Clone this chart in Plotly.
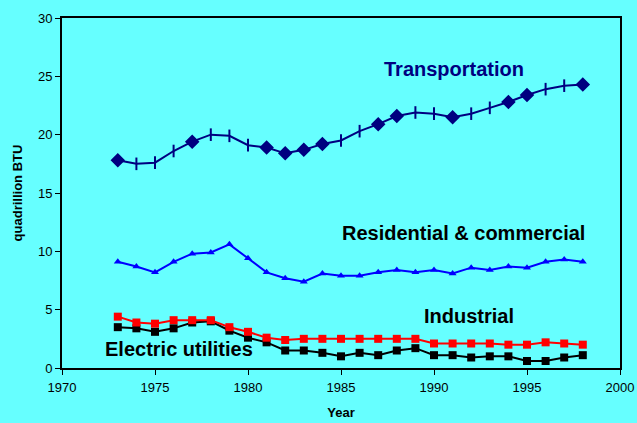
# Energy consumption by end-use sector, 1973-1998

import plotly.graph_objects as go

# Data
YEARS = list(range(1973, 1999))

TRANSPORTATION = [17.8, 17.5, 17.6, 18.6, 19.4, 20.0, 19.9, 19.1, 18.9, 18.4,
                  18.7, 19.2, 19.5, 20.3, 20.9, 21.6, 21.9, 21.8, 21.5, 21.8,
                  22.3, 22.8, 23.4, 23.9, 24.2, 24.3]
RESIDENTIAL = [9.1, 8.7, 8.2, 9.1, 9.8, 9.9, 10.6, 9.4, 8.2, 7.7,
               7.4, 8.1, 7.9, 7.9, 8.2, 8.4, 8.2, 8.4, 8.1, 8.6,
               8.4, 8.7, 8.6, 9.1, 9.3, 9.1]
INDUSTRIAL = [4.4, 3.9, 3.8, 4.1, 4.1, 4.1, 3.5, 3.1, 2.6, 2.4,
              2.5, 2.5, 2.5, 2.5, 2.5, 2.5, 2.5, 2.1, 2.1, 2.1,
              2.1, 2.0, 2.0, 2.2, 2.1, 2.0]
ELECTRIC = [3.5, 3.4, 3.1, 3.4, 3.9, 4.0, 3.2, 2.6, 2.2, 1.5,
            1.5, 1.3, 1.0, 1.3, 1.1, 1.5, 1.7, 1.1, 1.1, 0.9,
            1.0, 1.0, 0.6, 0.6, 0.9, 1.1]

# transportation markers come out as a mix of diamonds and ticks in the original
TRANS_SYMBOLS = ["diamond", "line-ns", "line-ns", "line-ns", "diamond", "line-ns",
                 "line-ns", "line-ns", "diamond", "diamond", "diamond", "diamond",
                 "line-ns", "line-ns", "diamond", "diamond", "line-ns", "line-ns",
                 "diamond", "line-ns", "line-ns", "diamond", "diamond", "line-ns",
                 "line-ns", "diamond"]

BG = "#66FFFF"
NAVY = "#000080"
FONT = "Arial, Liberation Sans, sans-serif"

fig = go.Figure()

fig.add_trace(go.Scatter(
    x=YEARS, y=ELECTRIC, mode="lines+markers",
    line=dict(color="black", width=2),
    marker=dict(symbol="square", size=8, color="black"),
))
fig.add_trace(go.Scatter(
    x=YEARS, y=INDUSTRIAL, mode="lines+markers",
    line=dict(color="#FF0000", width=2),
    marker=dict(symbol="square", size=8, color="#FF0000"),
))
fig.add_trace(go.Scatter(
    x=YEARS, y=RESIDENTIAL, mode="lines+markers",
    line=dict(color="#0000FF", width=2),
    marker=dict(symbol="triangle-up", size=7, color="#0000FF"),
))
fig.add_trace(go.Scatter(
    x=YEARS, y=TRANSPORTATION, mode="lines+markers",
    line=dict(color=NAVY, width=2),
    marker=dict(symbol=TRANS_SYMBOLS,
                size=[9 if s == "diamond" else 9 for s in TRANS_SYMBOLS],
                color=NAVY, opacity=1,
                line=dict(color=NAVY, width=2)),
))

# series labels placed in the plot
labels = [
    ("Transportation", 1991.1, 25.6, NAVY),
    ("Residential & commercial", 1991.6, 11.55, "black"),
    ("Industrial", 1991.9, 4.5, "black"),
    ("Electric utilities", 1976.3, 1.6, "black"),
]
for text, x, y, color in labels:
    fig.add_annotation(x=x, y=y, text="<b>%s</b>" % text, showarrow=False,
                       font=dict(size=20, color=color, family=FONT))

fig.update_xaxes(
    range=[1970, 2000], dtick=5, tick0=1970,
    showline=True, linecolor="black", linewidth=2, mirror=True,
    ticks="outside", ticklen=5, tickwidth=1, tickcolor="black",
    ticklabelstandoff=1, automargin=False,
    showgrid=False, zeroline=False,
    title=dict(text="<b>Year</b>", font=dict(size=13), standoff=14),
)
fig.update_yaxes(
    range=[0, 30], dtick=5,
    showline=True, linecolor="black", linewidth=2, mirror=True,
    ticks="outside", ticklen=5, tickwidth=1, tickcolor="black",
    automargin=False,
    showgrid=False, zeroline=False,
    title=dict(text="<b>quadrillion BTU</b>", font=dict(size=13), standoff=12),
)

fig.update_layout(
    width=637, height=423,
    margin=dict(l=62, r=17, t=18, b=55),
    plot_bgcolor=BG, paper_bgcolor=BG,
    font=dict(family=FONT, size=13, color="black"),
    showlegend=False,
)

# drop the page margin so the figure sits at the window corner
fig.write_html("out.html", config={"displayModeBar": False},
               post_script="document.body.style.margin='0';")
